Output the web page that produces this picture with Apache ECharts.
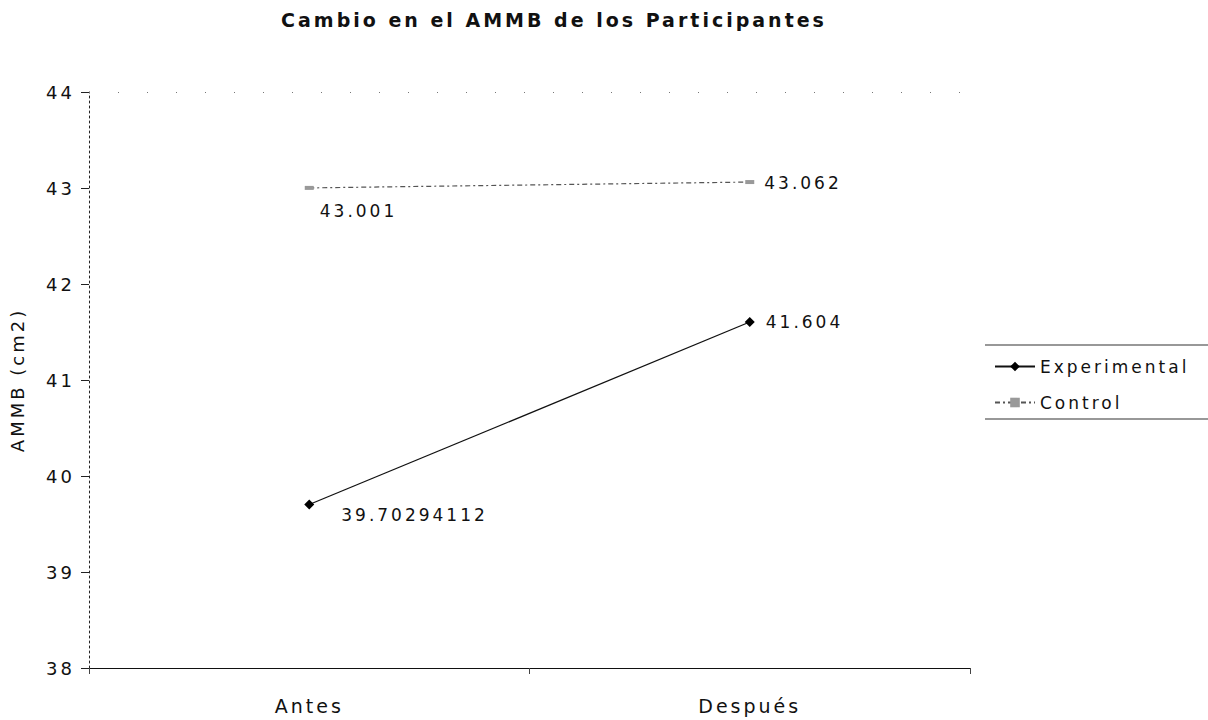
<!DOCTYPE html>
<html>
<head>
<meta charset="utf-8">
<script src="https://cdn.jsdelivr.net/npm/echarts@6/dist/echarts.min.js"></script>
<style>
  html, body { margin: 0; padding: 0; background: #fff; }
  /* wide-set lettering for every text element of the SVG chart */
  #chart { width: 1208px; height: 720px; letter-spacing: 3px; }
</style>
</head>
<body>
<div id="chart"></div>
<script>
// Mean AMMB (cm2) before and after, by group
const categories = ['Antes', 'Después'];
const experimental = [39.70294112, 41.604];
const control = [43.001, 43.062];
const experimentalLabels = ['39.70294112', '41.604'];
const controlLabels = ['43.001', '43.062'];
const yTicks = [38, 39, 40, 41, 42, 43, 44];

const FONT = 'DejaVu Sans';

// per-point label placement (pixels, relative to the marker box)
const expLabelPos = [[37, 7], [21, -4]];
const ctlLabelPos = [[15, 17], [19, -6]];

const chart = echarts.init(document.getElementById('chart'), null, { renderer: 'svg' });

chart.setOption({
  backgroundColor: '#ffffff',
  animation: false,
  textStyle: { fontFamily: FONT, color: '#111' },
  title: {
    text: 'Cambio en el AMMB de los Participantes',
    left: 549,
    top: 5,
    textAlign: 'center',
    textStyle: { fontFamily: FONT, fontSize: 19, fontWeight: 'bold', color: '#111' }
  },
  grid: {
    left: 89, right: 238, top: 92, bottom: 52,
    containLabel: false,
    outerBoundsMode: 'none'
  },
  legend: {
    orient: 'vertical',
    left: 989,
    top: 353,
    itemGap: 19,
    itemWidth: 40,
    itemHeight: 12,
    textStyle: { fontFamily: FONT, fontSize: 17, color: '#111' },
    data: ['Experimental', 'Control']
  },
  graphic: [
    { type: 'line', shape: { x1: 985, y1: 345, x2: 1208, y2: 345 }, style: { stroke: '#333', lineWidth: 1.2 } },
    { type: 'line', shape: { x1: 985, y1: 419, x2: 1208, y2: 419 }, style: { stroke: '#333', lineWidth: 1.2 } }
  ],
  xAxis: {
    type: 'category',
    data: categories,
    boundaryGap: true,
    axisLine: { lineStyle: { color: '#111', width: 1.2 } },
    axisTick: { show: true, length: 6, lineStyle: { color: '#444' } },
    axisLabel: { fontFamily: FONT, fontSize: 19, color: '#111', margin: 28 }
  },
  yAxis: {
    type: 'value',
    min: yTicks[0],
    max: yTicks[yTicks.length - 1],
    interval: 1,
    name: 'AMMB (cm2)',
    nameLocation: 'middle',
    nameGap: 63,
    nameRotate: 90,
    nameTextStyle: { fontFamily: FONT, fontSize: 18, color: '#111' },
    axisLine: { show: true, lineStyle: { color: '#222', type: [2, 3], width: 1 } },
    axisTick: { show: true, length: 8, lineStyle: { color: '#222' } },
    axisLabel: { fontFamily: FONT, fontSize: 18, color: '#111', margin: 14 },
    splitLine: { show: false }
  },
  series: [
    {
      name: 'Experimental',
      type: 'line',
      data: experimental.map((v, i) => ({
        value: v,
        label: { position: expLabelPos[i] }
      })),
      symbol: 'diamond',
      symbolSize: 10,
      color: '#000',
      lineStyle: { color: '#111', width: 1.3 },
      itemStyle: { color: '#000' },
      label: {
        show: true,
        fontFamily: FONT,
        fontSize: 17,
        color: '#111',
        formatter: p => experimentalLabels[p.dataIndex]
      },
      markLine: {
        silent: true,
        symbol: ['none', 'none'],
        label: { show: false },
        lineStyle: { color: '#777', type: [1, 28], width: 1 },
        data: [{ yAxis: yTicks[yTicks.length - 1] }]
      },
      z: 3
    },
    {
      name: 'Control',
      type: 'line',
      data: control.map((v, i) => ({
        value: v,
        label: { position: ctlLabelPos[i] }
      })),
      symbol: 'rect',
      symbolSize: [9, 4],
      color: '#888',
      lineStyle: { color: '#555', width: 1.2, type: [5, 3, 2, 3] },
      itemStyle: { color: '#999' },
      label: {
        show: true,
        fontFamily: FONT,
        fontSize: 17,
        color: '#111',
        formatter: p => controlLabels[p.dataIndex]
      },
      z: 2
    }
  ]
});
</script>
</body>
</html>
